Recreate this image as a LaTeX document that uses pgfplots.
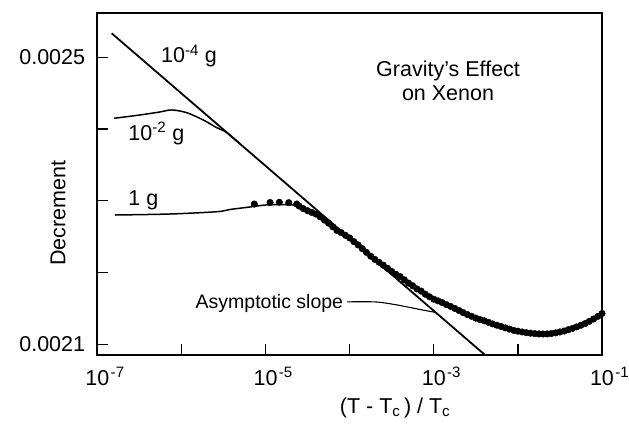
\documentclass[border=0pt]{standalone}
\usepackage{fontspec}
\setmainfont{Liberation Sans}
\usepackage{pgfplots}
\pgfplotsset{compat=1.18}
\usetikzlibrary{calc}
\newcommand{\bigf}{\fontsize{21.5}{25}\selectfont}
\begin{document}
\begin{tikzpicture}
\begin{axis}[
  scale only axis, width=504.7pt, height=342pt,
  xmode=log, xmin=1e-7, xmax=1e-1,
  ymin=0.0020851, ymax=0.0025617,
  scaled y ticks=false,
  xtick={1e-7,1e-6,1e-5,1e-4,1e-3,1e-2,1e-1},
  xticklabels={10\rlap{\kern1.5pt\textsuperscript{-7}},,10\rlap{\kern1.5pt\textsuperscript{-5}},,10\rlap{\kern1.5pt\textsuperscript{-3}},,10\rlap{\kern1.5pt\textsuperscript{-1}}},
  ytick={0.0021,0.0022,0.0023,0.0024,0.0025},
  yticklabels={0.0021,,,,0.0025},
  xminorticks=false, yminorticks=false,
  xtick pos=bottom, ytick pos=left,
  tick align=inside, major tick length=11pt,
  tick style={line width=1.3pt, black},
  axis line style={line width=1.8pt},
  tick label style={font=\bigf, inner sep=0pt},
  xticklabel style={anchor=north, yshift=-12pt},
  yticklabel style={anchor=east, xshift=-12pt},
  xlabel={(T - T\textsubscript{c}\,) / T\textsubscript{c}},
  ylabel={Decrement},
  label style={font=\bigf},
  xlabel style={at={(axis description cs:0.590,-0.170)}, anchor=base},
  ylabel style={at={(axis description cs:-0.0779,0.415)}, anchor=center},
]
% asymptotic straight line (10^-4 g)
\addplot[black, line width=1.8pt] coordinates {(1.483e-7,0.0025334) (4.074e-3,0.0020851)};
% 10^-2 g curve
\addplot[black, line width=1.5pt, smooth, tension=0.5] coordinates {
(1.592e-7,0.0024150) (3.221e-7,0.0024196) (5.568e-7,0.0024238) (7.674e-7,0.0024266)
(1.156e-6,0.0024228) (1.820e-6,0.0024126) (2.630e-6,0.0024019) (3.459e-6,0.0023952) (5.012e-6,0.0023790)};
% 1 g curve
\addplot[black, line width=1.5pt, smooth, tension=0.5] coordinates {
(1.622e-7,0.0022802) (7.345e-7,0.0022816) (2.649e-6,0.0022848) (3.784e-6,0.0022879)
(6.546e-6,0.0022914) (1.014e-5,0.0022942) (1.706e-5,0.0022948) (2.371e-5,0.0022935)
(2.818e-5,0.0022891) (3.162e-5,0.0022862) (3.981e-5,0.0022815) (5.012e-5,0.0022732) (6.310e-5,0.0022638)};
% leader line
\addplot[black, line width=1.1pt, smooth, tension=0.5] coordinates {
(9.311e-5,0.0021592) (1.897e-4,0.0021592) (2.636e-4,0.0021576) (3.972e-4,0.0021541) (6.871e-4,0.0021485) (1.036e-3,0.0021446)};
% 1 g data
\addplot[only marks, mark=*, mark size=3.3pt, black] table {
7.36e-6 0.0022955
1.132e-5 0.0022976
1.459e-5 0.0022979
1.888e-5 0.0022974
2.350e-5 0.0022955
2.512e-5 0.0022926
2.818e-5 0.0022891
3.162e-5 0.0022862
3.548e-5 0.0022838
3.981e-5 0.0022815
4.467e-5 0.0022776
5.012e-5 0.0022732
5.623e-5 0.0022688
6.310e-5 0.0022638
7.079e-5 0.0022586
7.943e-5 0.0022557
8.913e-5 0.0022519
1.000e-4 0.0022482
1.122e-4 0.0022431
1.259e-4 0.0022385
1.413e-4 0.0022334
1.585e-4 0.0022281
1.778e-4 0.0022228
1.995e-4 0.0022183
2.239e-4 0.0022143
2.512e-4 0.0022102
2.818e-4 0.0022059
3.162e-4 0.0022015
3.548e-4 0.0021976
3.981e-4 0.0021944
4.467e-4 0.0021898
5.012e-4 0.0021853
5.623e-4 0.0021815
6.310e-4 0.0021772
7.079e-4 0.0021742
7.943e-4 0.0021698
8.913e-4 0.0021662
1.000e-3 0.0021629
1.122e-3 0.0021606
1.259e-3 0.0021581
1.413e-3 0.0021553
1.585e-3 0.0021528
1.778e-3 0.0021500
1.995e-3 0.0021471
2.239e-3 0.0021442
2.512e-3 0.0021415
2.818e-3 0.0021390
3.162e-3 0.0021365
3.548e-3 0.0021344
3.981e-3 0.0021328
4.467e-3 0.0021307
5.012e-3 0.0021284
5.623e-3 0.0021266
6.310e-3 0.0021248
7.079e-3 0.0021229
7.943e-3 0.0021212
8.913e-3 0.0021194
1.000e-2 0.0021183
1.122e-2 0.0021172
1.259e-2 0.0021162
1.413e-2 0.0021155
1.585e-2 0.0021149
1.778e-2 0.0021145
1.995e-2 0.0021144
2.239e-2 0.0021145
2.512e-2 0.0021151
2.818e-2 0.0021160
3.162e-2 0.0021172
3.548e-2 0.0021185
3.981e-2 0.0021204
4.467e-2 0.0021222
5.012e-2 0.0021243
5.623e-2 0.0021266
6.310e-2 0.0021290
7.079e-2 0.0021321
7.943e-2 0.0021353
8.913e-2 0.0021389
1.000e-1 0.0021429
};
\node[anchor=base west, font=\bigf] at (axis cs:5.224e-7,0.0024925) {10\textsuperscript{-4} g};
\node[anchor=base west, font=\bigf] at (axis cs:2.133e-7,0.0023847) {10\textsuperscript{-2} g};
\node[anchor=base west, font=\bigf] at (axis cs:2.133e-7,0.0022928) {1 g};
\node[anchor=base, font=\bigf] at (axis cs:1.479e-3,0.0024730) {Gravity's Effect};
\node[anchor=base, font=\bigf] at (axis cs:1.479e-3,0.0024395) {on Xenon};
\node[anchor=base east, font=\fontsize{19.5}{23}\selectfont] at (axis cs:9.2e-5,0.0021499) {Asymptotic slope};
\end{axis}
\pgfresetboundingbox
\path[use as bounding box] ($(current axis.south west)+(-97.3pt,-70pt)$) rectangle ($(current axis.north east)+(27pt,13pt)$);
\end{tikzpicture}
\end{document}
